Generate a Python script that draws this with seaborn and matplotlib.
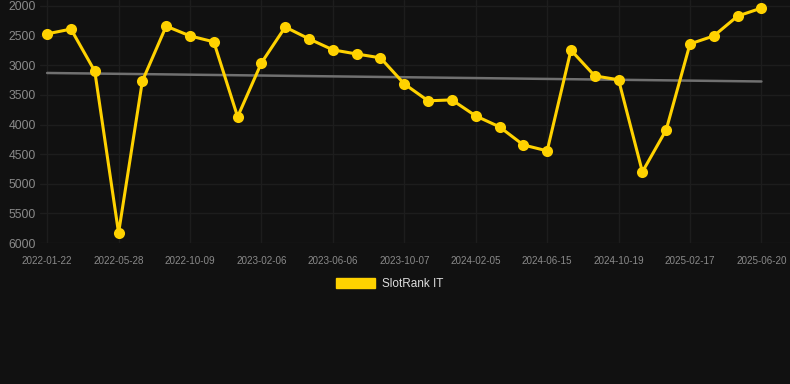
import numpy as np
import pandas as pd
import matplotlib
matplotlib.use("Agg")
import matplotlib.pyplot as plt
import seaborn as sns
from matplotlib.patches import Patch

# ---- data ----
tick_labels = ["2022-01-22", "2022-05-28", "2022-10-09", "2023-02-06", "2023-06-06",
               "2023-10-07", "2024-02-05", "2024-06-15", "2024-10-19", "2025-02-17",
               "2025-06-20"]
ranks = [2470, 2390, 3100, 5830, 3265, 2340, 2505, 2605, 3870, 2960,
         2355, 2555, 2740, 2810, 2875, 3315, 3600, 3585, 3855, 4040,
         4345, 4445, 2745, 3180, 3245, 4800, 4090, 2640, 2505, 2170, 2035]
series_name = "SlotRank IT"
y_ticks = [2000, 2500, 3000, 3500, 4000, 4500, 5000, 5500, 6000]

BG = "#111111"
GOLD = "#FFD200"
GRID = "#1d1d1d"
TXT = "#8a8a8a"

sns.set_theme(style="dark")
plt.rcParams["font.family"] = ["Liberation Sans", "DejaVu Sans"]

df = pd.DataFrame({"idx": np.arange(len(ranks)), "rank": ranks})

fig = plt.figure(figsize=(7.9, 3.84), dpi=100, facecolor=BG)
ax = fig.add_axes([40 / 790, 1 - 243 / 384, 750 / 790, 243 / 384])
ax.set_facecolor(BG)

ax.set_yticks(y_ticks)
tick_pos = list(range(0, len(ranks), 3))
ax.set_xticks(tick_pos)
ax.set_xticklabels(tick_labels)
ax.grid(True, color=GRID, linewidth=1)
for s in ax.spines.values():
    s.set_visible(False)

# trend line (linear fit of the data)
coef = np.polyfit(df["idx"], df["rank"], 1)
trend = np.polyval(coef, df["idx"])
ax.plot(df["idx"], trend, color="#707070", linewidth=1.8, zorder=2)

sns.lineplot(data=df, x="idx", y="rank", ax=ax, color=GOLD, linewidth=2.2,
             marker="o", markersize=8, markeredgewidth=0, zorder=3, legend=False)

ax.set_xlim(-0.3, 31.2)
ax.set_ylim(6000, 2000 - 6 / 237 * 4000)
ax.set_xlabel("")
ax.set_ylabel("")
ax.tick_params(axis="y", colors=TXT, labelsize=8.7, length=0, pad=3)
ax.tick_params(axis="x", colors=TXT, labelsize=7.1, length=0, pad=9)

leg = fig.legend(handles=[Patch(facecolor=GOLD, edgecolor=GOLD, label=series_name)],
                 loc="center", bbox_to_anchor=(390 / 790, 1 - 284 / 384),
                 frameon=False, fontsize=8.5, handlelength=3.3, handleheight=0.9,
                 handletextpad=0.6)
for t in leg.get_texts():
    t.set_color("#dddddd")

fig.savefig("out.png", dpi=100, facecolor=BG)
